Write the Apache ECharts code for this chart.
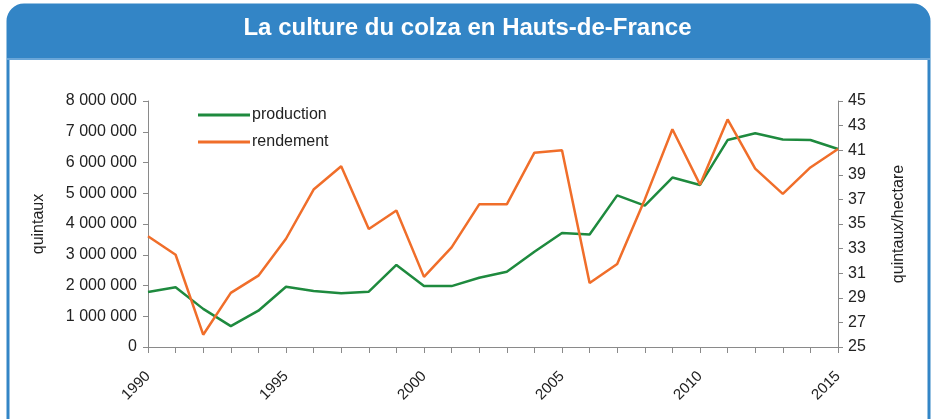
<!DOCTYPE html>
<html>
<head>
<meta charset="utf-8">
<script src="https://cdn.jsdelivr.net/npm/echarts@6/dist/echarts.min.js"></script>
<style>
html, body { margin: 0; padding: 0; background: #fff; }
#chart { width: 935px; height: 419px; }
</style>
</head>
<body>
<div id="chart"></div>
<script>
var years = [];
for (var y = 1990; y <= 2015; y++) years.push(String(y));

// quintaux
var production = [1790000, 1940000, 1240000, 680000, 1180000, 1960000, 1820000, 1750000, 1800000, 2670000,
    1980000, 1980000, 2250000, 2450000, 3100000, 3710000, 3660000, 4930000, 4600000, 5510000,
    5270000, 6730000, 6950000, 6750000, 6730000, 6440000];
// quintaux/hectare
var rendement = [34.0, 32.5, 26.0, 29.4, 30.8, 33.8, 37.8, 39.7, 34.6, 36.1,
    30.7, 33.1, 36.6, 36.6, 40.8, 41.0, 30.2, 31.75, 37.0, 42.7,
    38.2, 43.5, 39.5, 37.45, 39.6, 41.1];

var blue = '#3385c6';
var axisColor = '#8a8a8a';

var myChart = echarts.init(document.getElementById('chart'));

option = {
    backgroundColor: '#fff',
    textStyle: { fontFamily: 'Liberation Sans, Arial, sans-serif' },
    graphic: [
        {
            type: 'rect',
            shape: { x: 8, y: 5, width: 921, height: 440, r: [16, 16, 0, 0] },
            style: { fill: '#fff', stroke: blue, lineWidth: 3 },
            z: -10
        },
        {
            type: 'rect',
            shape: { x: 7, y: 5, width: 923, height: 53, r: [16, 16, 0, 0] },
            style: { fill: blue },
            z: -5
        },
        {
            type: 'rect',
            shape: { x: 7, y: 58, width: 923, height: 2 },
            style: { fill: '#6aa6d8' },
            z: -5
        },
        {
            type: 'text',
            left: 'center',
            top: 16,
            style: {
                text: 'La culture du colza en Hauts-de-France',
                fill: '#fff',
                font: 'bold 24px "Liberation Sans", Arial, sans-serif'
            }
        }
    ],
    legend: {
        orient: 'vertical',
        left: 193,
        top: 102,
        itemWidth: 52,
        itemHeight: 3,
        itemGap: 11,
        icon: 'rect',
        textStyle: { fontSize: 16, color: '#222', padding: [0, 0, 0, -3] },
        data: ['production', 'rendement']
    },
    grid: {
        left: 148,
        right: 97,
        top: 101,
        bottom: 72
    },
    xAxis: {
        type: 'category',
        data: years,
        boundaryGap: false,
        axisLine: { lineStyle: { color: axisColor, width: 1 } },
        axisTick: { show: true, interval: 0, length: 6, lineStyle: { color: axisColor } },
        axisLabel: {
            interval: 4,
            rotate: 45,
            fontSize: 15,
            color: '#222',
            margin: 27
        },
        splitLine: { show: false }
    },
    yAxis: [
        {
            type: 'value',
            min: 0,
            max: 8000000,
            interval: 1000000,
            name: 'quintaux',
            nameLocation: 'middle',
            nameGap: 101,
            nameRotate: 90,
            nameTextStyle: { fontSize: 16, color: '#222' },
            axisLine: { show: true, lineStyle: { color: axisColor } },
            axisTick: { show: true, length: 5, lineStyle: { color: axisColor } },
            axisLabel: {
                fontSize: 16,
                color: '#222',
                margin: 11,
                formatter: function (v) {
                    return String(v).replace(/\B(?=(\d{3})+(?!\d))/g, ' ');
                }
            },
            splitLine: { show: false }
        },
        {
            type: 'value',
            min: 25,
            max: 45,
            interval: 2,
            position: 'right',
            name: 'quintaux/hectare',
            nameLocation: 'middle',
            nameGap: 53,
            nameRotate: 90,
            nameTextStyle: { fontSize: 16, color: '#222' },
            axisLine: { show: true, lineStyle: { color: axisColor } },
            axisTick: { show: true, length: 5, lineStyle: { color: axisColor } },
            axisLabel: { fontSize: 16, color: '#222', margin: 10 },
            splitLine: { show: false }
        }
    ],
    series: [
        {
            name: 'production',
            type: 'line',
            yAxisIndex: 0,
            data: production,
            symbol: 'none',
            color: '#1e8a3e',
            lineStyle: { width: 2.5, color: '#1e8a3e' }
        },
        {
            name: 'rendement',
            type: 'line',
            yAxisIndex: 1,
            data: rendement,
            symbol: 'none',
            color: '#f06e2a',
            lineStyle: { width: 2.5, color: '#f06e2a' }
        }
    ]
};

myChart.setOption(option);
</script>
</body>
</html>
